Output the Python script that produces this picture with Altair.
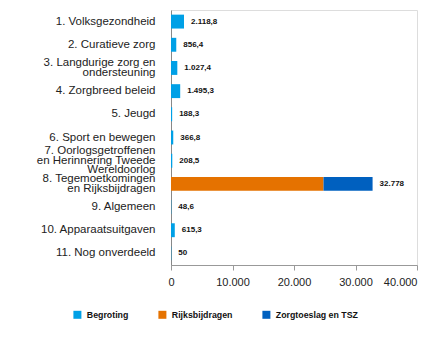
import altair as alt
import pandas as pd

categories = [
    "1. Volksgezondheid",
    "2. Curatieve zorg",
    "3. Langdurige zorg en|ondersteuning",
    "4. Zorgbreed beleid",
    "5. Jeugd",
    "6. Sport en bewegen",
    "7. Oorlogsgetroffenen|en Herinnering Tweede|Wereldoorlog",
    "8. Tegemoetkomingen|en Rijksbijdragen",
    "9. Algemeen",
    "10. Apparaatsuitgaven",
    "11. Nog onverdeeld",
]
begroting = [2118.8, 856.4, 1027.4, 1495.3, 188.3, 366.8, 208.5, 0, 48.6, 615.3, 50]
rijksbijdragen = [0, 0, 0, 0, 0, 0, 0, 24800, 0, 0, 0]
zorgtoeslag = [0, 0, 0, 0, 0, 0, 0, 7978, 0, 0, 0]
value_labels = ["2.118,8", "856,4", "1.027,4", "1.495,3", "188,3", "366,8",
                "208,5", "32.778", "48,6", "615,3", "50"]
series_names = ["Begroting", "Rijksbijdragen", "Zorgtoeslag en TSZ"]
series_colors = ["#00A0E6", "#E57200", "#0060BF"]
x_ticks = [0, 10000, 20000, 30000, 40000]

rows = []
for i, c in enumerate(categories):
    for j, (s, vals) in enumerate(zip(series_names, [begroting, rijksbijdragen, zorgtoeslag])):
        rows.append({"cat": c, "series": s, "value": vals[i], "ord": j})
df = pd.DataFrame(rows)

tot = pd.DataFrame({
    "cat": categories,
    "total": [b + r + z for b, r, z in zip(begroting, rijksbijdragen, zorgtoeslag)],
    "label": value_labels,
})

FONT = "Liberation Sans"
LH = 9.5

y_enc = alt.Y("cat:N", sort=categories, title=None,
              scale=alt.Scale(paddingInner=0.4, paddingOuter=0.2),
              axis=alt.Axis(labelExpr="split(datum.label, '|')", labelFontSize=11.5,
                            labelLineHeight=LH, labelColor="#222", labelPadding=16,
                            ticks=False, domainColor="#888", labelLimit=200,
                            labelFont=FONT,
                            labelOffset={"condition": [
                                {"test": "length(split(datum.label, '|')) == 3", "value": -LH},
                                {"test": "length(split(datum.label, '|')) == 2", "value": -LH / 2},
                            ], "value": 0}))

bars = alt.Chart(df).mark_bar().encode(
    x=alt.X("sum(value):Q", title=None,
            scale=alt.Scale(domain=[0, 40000], nice=False),
            axis=alt.Axis(values=x_ticks, format=",d", labelFontSize=11,
                          labelColor="#222", domainColor="#999", tickColor="#999",
                          tickSize=5, grid=False, labelPadding=6, labelFont=FONT,
                          labelAlign={"condition": {"test": "datum.value == 40000", "value": "right"},
                                      "value": "center"})),
    y=y_enc,
    color=alt.Color("series:N", sort=series_names,
                    scale=alt.Scale(domain=series_names, range=series_colors),
                    legend=alt.Legend(title=None, orient="none", direction="horizontal",
                                      legendX=-98, legendY=300, symbolType="square",
                                      symbolSize=64, symbolStrokeWidth=0,
                                      labelFontSize=8.8, labelFontWeight="bold",
                                      labelFont=FONT, labelColor="#111",
                                      columnPadding=29, padding=0, labelOffset=5)),
    order=alt.Order("ord:Q"),
)

text = alt.Chart(tot).mark_text(align="left", baseline="middle", dx=7, fontSize=8,
                                fontWeight="bold", font=FONT, color="#111").encode(
    x=alt.X("total:Q"),
    y=alt.Y("cat:N", sort=categories),
    text="label:N",
)

chart = alt.layer(bars, text).properties(
    width=246, height=255,
    autosize=alt.AutoSizeParams(type="none"),
    padding={"left": 171, "top": 10, "right": 6, "bottom": 74},
).configure_view(stroke=None).configure(
    locale={"number": {"decimal": ",", "thousands": ".", "grouping": [3], "currency": ["€", ""]}}
)

chart.save("out.html", embed_options={"renderer": "svg", "actions": False})
